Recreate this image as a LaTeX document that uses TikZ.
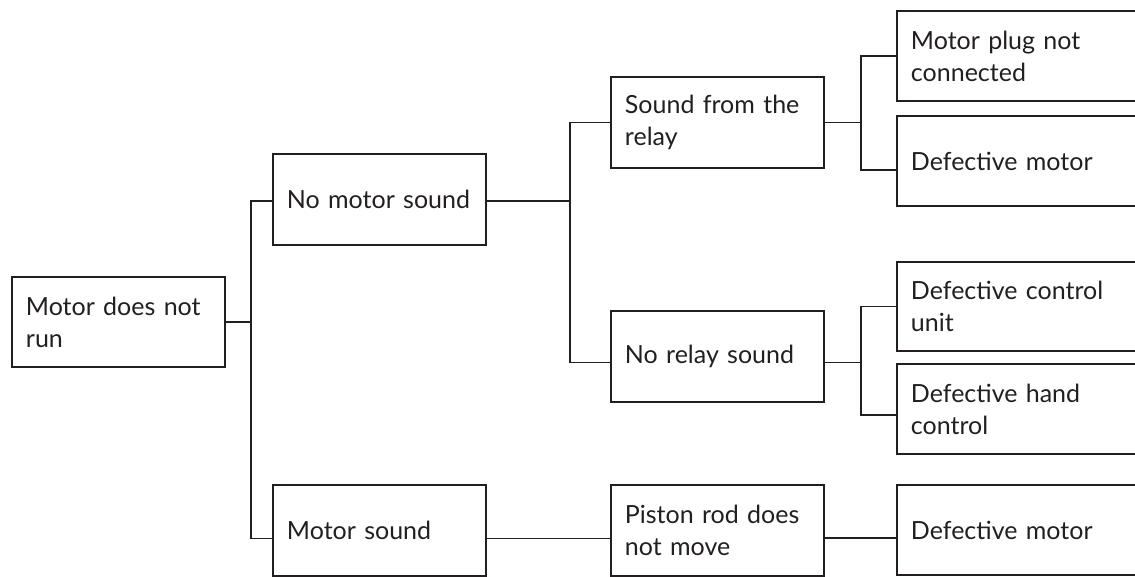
\documentclass[tikz,border=0pt]{standalone}
\usepackage{fontspec}
\setmainfont{Lato}
\definecolor{ink}{RGB}{35,31,32}
\begin{document}
\begin{tikzpicture}[x=1pt,y=-1pt,
  box/.style={draw=ink, line width=1.9pt, rectangle, anchor=north west,
    inner xsep=14pt, inner ysep=0pt, align=left, text=ink,
    font=\fontsize{25}{32}\selectfont},
  w1/.style={text width=185pt, minimum height=91pt},
  w4/.style={text width=247pt, minimum height=91pt},
  link/.style={draw=ink, line width=1.9pt}]
\useasboundingbox (0,0) rectangle (1135,576);
\clip (0,0) rectangle (1135,576);
% column 1
\node[box, w1, minimum height=90pt] (A) at (11,276) {Motor does not\\run};
% column 2
\node[box, w1] (B) at (272,153) {No motor sound};
\node[box, w1] (C) at (272,484) {Motor sound};
% column 3
\node[box, w1] (D) at (610,76) {Sound from the\\relay};
\node[box, w1] (E) at (610,310) {No relay sound};
\node[box, w1] (F) at (610,484) {Piston rod does\\not move};
% column 4
\node[box, w4, minimum height=90pt] (G) at (896,10) {Motor plug not\\connected};
\node[box, w4, minimum height=90pt] (H) at (896,115) {Defective motor};
\node[box, w4, minimum height=89pt] (I) at (896,261) {Defective control\\unit};
\node[box, w4, minimum height=90pt] (J) at (896,363) {Defective hand\\control};
\node[box, w4, minimum height=90pt] (K) at (896,484) {Defective motor};
% bus positions
\coordinate (b1) at (251,0);
\coordinate (b2) at (570,0);
\coordinate (b3) at (861,0);
% connector points
\coordinate (Bin) at ([yshift=-1.5pt]B.west);
\coordinate (Bout) at ([yshift=-1.5pt]B.east);
\coordinate (Cin) at ([yshift=-8pt]C.west);
\coordinate (Cout) at ([yshift=-8pt]C.east);
\coordinate (Ein) at ([yshift=-6pt]E.west);
\coordinate (Eout) at ([yshift=-6pt]E.east);
\coordinate (Fout) at ([yshift=-7.5pt]F.east);
\coordinate (Hin) at ([yshift=-9pt]H.west);
\coordinate (Jin) at ([yshift=-6pt]J.west);
% connectors
\path[link] (A.east) -- (A.east -| b1);
\path[link] (Bin) -| (b1 |- Cin) -- (Cin);
\path[link] (Bout) -- (Bout -| b2);
\path[link] (D.west) -| (b2 |- Ein) -- (Ein);
\path[link] (D.east) -- (D.east -| b3);
\path[link] (G.west) -| (b3 |- Hin) -- (Hin);
\path[link] (Eout) -- (Eout -| b3);
\path[link] (I.west) -| (b3 |- Jin) -- (Jin);
\path[link] (Cout) -- (Cout -| F.west);
\path[link] (Fout) -- (Fout -| K.west);
\end{tikzpicture}
\end{document}
